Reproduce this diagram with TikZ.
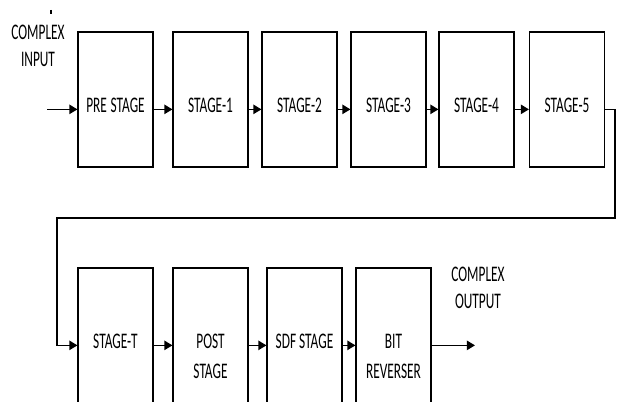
\documentclass[tikz,border=0pt]{standalone}
\usepackage{fontspec}
\setmainfont{Carlito}[FakeStretch=0.6]
\usetikzlibrary{arrows.meta}
\begin{document}
\begin{tikzpicture}[x=0.03cm,y=-0.03cm,
	blk/.style={draw,line width=0.9pt,inner sep=0pt,minimum width=2.25cm,minimum height=4.05cm,text height=0.76cm,text depth=0pt,font=\fontsize{19}{26}\selectfont},
	lbl/.style={align=center,font=\fontsize{19}{23}\selectfont},
	link/.style={line width=1.4pt,-{Triangle[length=7pt,width=8pt]}}]

	\path[use as bounding box,clip] (0,0) rectangle (617,402);

	\node[blk] (pre) at (115.5,99.5){PRE\,STAGE};
	\node[blk] (s1) at (210.5,99.5){STAGE-1};
	\node[blk] (s2) at (299.5,99.5){STAGE-2};
	\node[blk] (s3) at (388.5,99.5){STAGE-3};
	\node[blk] (s4) at (476.5,99.5){STAGE-4};
	\node[blk] (s5) at (567,99.5){STAGE-5};

	\node[blk] (st) at (115.5,335.5){STAGE-T};
	\node[blk] (post) at (210.5,335.5){\begin{tabular}[t]{@{}c@{}}POST\\STAGE\end{tabular}};
	\node[blk] (sdf) at (304.5,335.5){SDF STAGE};
	\node[blk] (bit) at (393.5,335.5){\begin{tabular}[t]{@{}c@{}}BIT\\REVERSER\end{tabular}};

	\node[lbl] (cin) at (38,46){COMPLEX\\INPUT};
	\node[lbl] (cout) at (478,288){COMPLEX\\OUTPUT};
	\draw[line width=0.9pt] (51,10)--(51,14);

	\coordinate (in) at (47,105);
	\coordinate (out) at (475,340);
	\coordinate (rt) at (615,218);
	\coordinate (lf) at (57,218);

	\draw[link] (in |- pre.mid west) -- (pre.mid west);
	\draw[link] (pre.mid east) -- (s1.mid west);
	\draw[link] (s1.mid east) -- (s2.mid west);
	\draw[link] (s2.mid east) -- (s3.mid west);
	\draw[link] (s3.mid east) -- (s4.mid west);
	\draw[link] (s4.mid east) -- (s5.mid west);
	\draw[link] (s5.mid east) -| (rt) -- (lf) |- (st.mid west);

	\draw[link] (st.mid east) -- (post.mid west);
	\draw[link] (post.mid east) -- (sdf.mid west);
	\draw[link] (sdf.mid east) -- (bit.mid west);
	\draw[link] (bit.mid east) -- (bit.mid east -| out);

\end{tikzpicture}
\end{document}
